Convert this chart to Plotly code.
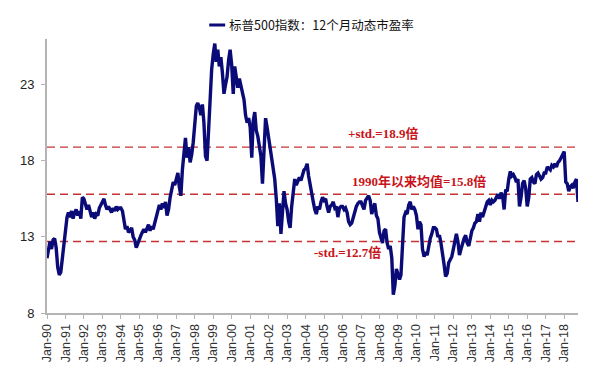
import pandas as pd
import plotly.graph_objects as go

# ---- data (monthly) ----
start_month = "1990-01-01"
forward_pe = [
    # 1990
    11.6, 12.2, 12.7, 12.2, 12.8, 12.9, 12.3, 11.0, 10.5, 10.7, 11.6, 12.5,
    # 1991
    13.6, 14.3, 14.6, 14.3, 14.7, 14.2, 14.6, 14.8, 14.4, 14.7, 14.2, 15.6,
    # 1992
    15.5, 15.0, 14.8, 15.1, 14.6, 14.3, 14.6, 14.2, 14.5, 14.4, 14.9, 15.1,
    # 1993
    15.3, 15.5, 15.1, 14.8, 15.0, 14.8, 14.6, 14.9, 14.7, 15.0, 14.8, 14.9,
    # 1994
    14.9, 14.7, 14.0, 13.5, 13.7, 13.3, 13.4, 13.6, 13.0, 12.8, 12.3, 12.6,
    # 1995
    12.9, 13.1, 13.3, 13.5, 13.3, 13.6, 13.8, 13.4, 13.7, 13.5, 13.9, 14.2,
    # 1996
    14.6, 15.1, 14.8, 15.2, 14.9, 15.3, 14.4, 14.8, 15.6, 16.0, 16.6, 16.4,
    # 1997
    16.8, 17.2, 16.3, 15.7, 17.4, 18.6, 19.5, 18.2, 18.9, 17.9, 18.4, 19.2,
    # 1998
    20.8, 21.6, 21.8, 21.5, 21.0, 21.7, 20.5, 18.3, 18.0, 19.9, 22.3, 24.0,
    # 1999
    25.0, 25.7, 24.5, 25.3, 24.2, 24.8, 23.8, 22.4, 23.0, 23.5, 24.6, 25.3,
    # 2000
    24.3, 22.4, 24.2, 23.6, 22.8, 23.4, 23.0, 22.5, 22.0, 21.0, 20.5, 20.8,
    # 2001
    20.2, 18.2, 20.6, 21.2, 20.0, 19.6, 19.0, 18.3, 16.5, 19.0, 20.8, 20.2,
    # 2002
    19.5, 18.8, 18.2, 17.5, 16.8, 15.5, 13.7, 15.2, 13.2, 14.6, 16.0, 15.2,
    # 2003
    14.8, 14.0, 13.6, 15.0, 16.2, 16.8, 16.4, 16.6, 16.9, 16.7, 17.1, 17.4,
    # 2004
    17.5, 17.8, 17.0, 16.4, 15.6, 15.3, 14.8, 14.5, 15.0, 14.8, 15.3, 15.6,
    # 2005
    15.4, 15.5, 15.0, 14.6, 15.0, 15.1, 15.3, 14.9, 15.0, 14.3, 14.9, 15.0,
    # 2006
    15.0, 14.8, 14.9, 14.6, 14.0, 13.8, 13.9, 14.3, 14.7, 15.0, 15.2, 15.3,
    # 2007
    15.3, 15.0, 14.8, 15.4, 15.6, 15.7, 15.4, 14.5, 14.9, 15.2, 14.4, 14.2,
    # 2008
    13.3, 12.8, 12.6, 13.4, 13.5, 12.6, 12.2, 12.4, 11.6, 9.2, 9.8, 10.9,
    # 2009
    10.6, 10.2, 10.5, 12.8, 14.3, 14.6, 14.5, 15.1, 15.3, 14.8, 15.0, 14.8,
    # 2010
    14.4, 13.5, 14.0, 13.8, 12.2, 11.7, 12.0, 11.8, 12.4, 12.9, 13.2, 13.6,
    # 2011
    13.6, 13.5, 13.0, 13.1, 12.6, 12.0, 11.2, 10.4, 10.6, 11.3, 11.5, 11.7,
    # 2012
    12.2, 12.9, 13.2, 12.7, 11.8, 12.2, 12.6, 12.9, 13.1, 12.6, 12.4, 12.9,
    # 2013
    13.4, 13.6, 13.9, 14.0, 14.5, 14.0, 14.6, 14.3, 14.7, 15.0, 15.3, 15.4,
    # 2014
    15.1, 15.4, 15.3, 15.4, 15.6, 15.8, 15.5, 15.9, 15.7, 14.8, 16.1, 16.0,
    # 2015
    16.8, 17.3, 17.0, 17.1, 16.9, 16.6, 16.8, 15.0, 15.6, 16.5, 16.7, 16.2,
    # 2016
    15.0, 15.6, 16.8, 16.9, 16.6, 16.5, 17.1, 17.2, 17.0, 16.8, 16.9, 17.2,
    # 2017
    17.2, 17.6, 17.5, 17.4, 17.7, 17.6, 17.8, 17.6, 17.9, 18.0, 18.2, 18.4,
    # 2018
    18.6, 16.6, 16.5, 16.0, 16.3, 16.4, 16.2, 16.6, 16.8, 15.3,
]

series_name = "标普500指数：12个月动态市盈率"
mean_pe = 15.8
plus_std = 18.9
minus_std = 12.7
ref_labels = ["+std.=18.9倍", "1990年以来均值=15.8倍", "-std.=12.7倍"]
ref_label_dates = ["2008-03-05", "2010-02-15", "2006-04-05"]
ref_label_values = [19.82, 16.63, 11.99]

tick_years = list(range(1990, 2019))
tick_dates = [f"{y}-01-01" for y in tick_years]
tick_labels = [f"Jan-{str(y)[2:]}" for y in tick_years]
y_ticks = [8, 13, 18, 23]

dates = pd.date_range(start_month, periods=len(forward_pe), freq="MS")

# ---- figure ----
NAVY = "#0b0b78"
RED_LINE = "#c83232"
RED_TEXT = "#c8141a"
AXIS_GREY = "#b4b4b4"

fig = go.Figure()
fig.add_trace(go.Scatter(
    x=dates, y=forward_pe, mode="lines", name=series_name,
    line=dict(color=NAVY, width=3.4), showlegend=False,
))

for v in (plus_std, mean_pe, minus_std):
    fig.add_shape(type="line", xref="paper", x0=0, x1=1, yref="y", y0=v, y1=v,
                  line=dict(color=RED_LINE, width=1.4, dash="8px,5px"), layer="below")

for txt, xd, yv in zip(ref_labels, ref_label_dates, ref_label_values):
    fig.add_annotation(x=xd, y=yv, xref="x", yref="y", text=f"<b>{txt}</b>",
                       showarrow=False, xanchor="center", yanchor="middle",
                       font=dict(family="Liberation Serif, Noto Sans CJK SC, serif",
                                 size=13, color=RED_TEXT))

# legend drawn manually (small line sample + text)
fig.add_shape(type="line", xref="paper", yref="paper", x0=0.3055, x1=0.3355,
              y0=1.0511, y1=1.0511, line=dict(color=NAVY, width=3))
fig.add_annotation(x=0.339, y=1.0511, xref="paper", yref="paper", text=series_name,
                   showarrow=False, xanchor="left", yanchor="middle",
                   font=dict(family="Noto Sans CJK SC, sans-serif", size=12.5, color="#111111"))

# page body has an 8px margin: compensate so the plot area lands at x 44-578, y 39-313
fig.update_layout(
    width=600, height=370,
    margin=dict(l=36, r=30, t=31, b=65),
    paper_bgcolor="white", plot_bgcolor="white",
    font=dict(family="Arial, Liberation Sans, sans-serif", color="#222222"),
)
fig.update_xaxes(
    type="date", range=["1990-01-01", "2018-10-01"],
    tickmode="array", tickvals=tick_dates, ticktext=tick_labels,
    tickangle=-90, tickfont=dict(size=12.5, color="#333333"),
    showline=True, linecolor=AXIS_GREY, linewidth=2,
    ticks="outside", ticklen=4, tickcolor=AXIS_GREY, tickwidth=1,
    showgrid=False, zeroline=False,
)
fig.update_yaxes(
    range=[8, 26], tickmode="array", tickvals=y_ticks,
    tickfont=dict(size=13, color="#222222"),
    showline=True, linecolor=AXIS_GREY, linewidth=2,
    ticks="outside", ticklen=4, tickcolor=AXIS_GREY, tickwidth=1,
    ticklabelstandoff=4,
    showgrid=False, zeroline=False,
)

fig.write_html("out.html")
